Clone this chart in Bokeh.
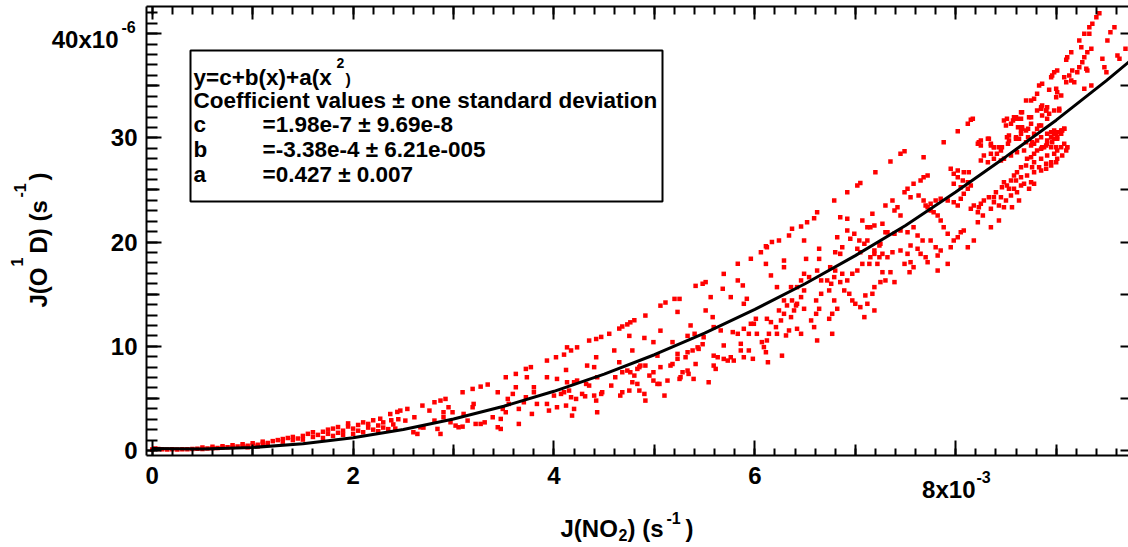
import math
from bokeh.plotting import figure
from bokeh.models import (ColumnDataSource, Label, BoxAnnotation, LinearAxis,
                          SingleIntervalTicker, FixedTicker, Range1d)
from bokeh.embed import file_html
from bokeh.resources import INLINE

# J(NO2) in units of 1e-3 s^-1 ; J(O1D) in units of 1e-6 s^-1
pts_low = [
(0.00,0.10),(0.03,0.20),(0.06,0.15),(0.10,0.12),(0.15,0.10),(0.20,0.12),(0.25,0.10),(0.30,0.13),(0.35,0.12),
(0.40,0.15),(0.45,0.17),(0.50,0.15),(0.55,0.20),(0.60,0.22),(0.65,0.25),(0.70,0.28),(0.75,0.30),(0.80,0.33),
(0.85,0.38),(0.90,0.42),(0.95,0.45),(1.00,0.50),(1.05,0.55),(1.10,0.65),(1.15,0.72),(0.70,0.40),(0.80,0.50),
(0.90,0.60),(1.00,0.70),(1.10,0.85),(1.15,0.55),(0.95,0.30),(1.05,0.40),(0.60,0.35),(0.50,0.28),
(1.20,0.90),(1.25,1.00),(1.30,0.85),(1.30,1.10),(1.35,1.20),(1.40,1.00),(1.40,1.30),(1.45,1.15),(1.50,1.40),
(1.50,1.05),(1.55,1.60),(1.60,1.30),(1.60,1.75),(1.65,1.50),(1.70,1.20),(1.70,1.80),(1.75,1.60),(1.75,2.00),
(1.80,1.40),(1.80,2.10),(1.85,1.70),(1.85,2.25),(1.90,1.90),(1.90,1.50),(1.95,2.30),(1.95,2.60),(2.00,1.60),
(2.00,2.10),(2.05,2.45),(2.05,1.90),(2.10,2.70),(2.10,1.75),(2.15,2.20),(2.15,2.55),(2.20,2.00),(2.20,2.90),
(2.25,1.85),(2.25,2.40),(2.27,3.05),(2.30,2.20),(2.30,2.70),(2.35,2.05),(2.37,3.50),(2.38,2.90),(2.40,2.50),
(2.42,2.10),(2.44,3.70),(2.45,3.00),
]

pts_mid = [
(5.41,15.8),(5.48,16.0),(5.06,13.9),(5.11,14.2),(5.25,14.55),(5.20,14.55),(4.91,12.95),(4.76,12.3),(4.80,12.5),
(4.73,12.1),(4.68,11.9),(4.65,11.7),(4.55,11.2),(4.47,10.9),(4.42,10.7),(4.35,10.55),(4.23,9.9),
(5.23,13.3),(5.06,11.5),(5.36,12.0),(4.75,11.0),(4.90,10.8),(4.99,10.4),(5.18,10.4),(5.33,11.0),(5.40,11.2),
(5.48,10.2),(5.49,10.87),(5.43,9.9),(5.44,9.75),(5.33,9.43),(5.23,9.27),(5.23,8.8),(5.31,8.95),(5.38,9.6),
(4.60,9.6),(4.78,9.6),(4.86,8.15),(4.91,8.15),(5.03,9.1),(5.06,8.0),(5.16,8.15),(5.18,8.3),(5.26,7.03),
(5.33,7.67),(5.34,7.35),(5.39,6.87),(5.41,8.3),
(4.42,8.95),(4.17,9.6),(4.13,9.9),(4.10,9.2),(4.02,8.95),(3.93,8.63),
(4.40,8.0),(4.33,8.15),(4.65,8.47),(4.68,7.51),(4.73,7.67),(4.76,7.51),(4.80,7.19),(4.83,7.83),(4.85,8.0),
(4.95,7.19),(4.99,7.51),(5.05,6.39),(5.13,6.71),(5.25,6.87),(5.28,7.51),
(3.72,7.83),(3.77,8.0),(3.73,7.03),(3.62,7.35),(3.52,7.03),(3.62,6.07),(3.80,6.07),(3.93,7.03),(4.03,6.87),
(4.12,7.73),(4.13,6.55),(4.15,5.75),(4.20,6.55),(4.23,6.71),(4.32,6.39),(4.35,6.23),(4.43,7.03),(4.48,5.59),
(4.57,6.23),(4.61,7.03),(4.66,5.27),(4.68,5.59),(4.75,5.75),(4.78,6.55),(4.83,6.39),(4.85,5.75),(4.90,5.43),
(4.91,4.79),(5.10,5.27),(5.03,6.39),(4.99,6.71),
(3.09,5.59),(3.19,5.91),(3.27,6.13),(3.34,6.33),(3.44,5.59),(3.54,4.95),(3.59,5.43),(3.65,3.99),(3.72,5.11),
(3.78,3.51),(3.83,4.47),(3.93,4.47),(3.95,3.83),(4.00,5.27),(4.03,4.15),(4.07,5.43),(4.10,5.59),(4.12,4.31),
(4.17,5.11),(4.18,3.35),(4.20,3.99),(4.22,4.95),(4.28,5.43),(4.31,5.2),(4.40,5.27),(4.42,4.79),(4.43,3.67),
(4.47,5.43),
(2.81,4.63),(2.87,4.79),(2.92,4.95),(2.95,4.15),(2.99,3.67),(3.05,2.23),(3.14,2.87),(3.10,3.51),(3.19,4.15),
(3.22,2.55),(3.27,2.55),(3.31,2.7),(3.39,3.19),(3.44,2.23),(3.47,3.03),(3.52,3.67),(3.55,4.47),(3.49,3.99),
(3.65,2.55),(3.70,4.63),(3.80,5.59),(3.47,2.07),(3.20,4.47),
(2.47,3.83),(2.54,3.99),(2.52,2.87),(2.61,3.19),(2.67,2.23),(2.64,1.59),(2.69,4.31),(2.76,3.83),(2.81,2.87),
(2.84,2.07),(2.90,3.19),(2.97,2.71),(2.87,1.59),(3.02,2.39),(3.09,2.29),(2.90,3.67),(2.60,1.75),(2.70,2.2),
(5.59,9.1),(5.63,8.95),(5.73,8.63),(5.76,8.95),(5.79,8.63),(5.86,9.6),(5.89,8.95),(5.94,9.6),(5.98,8.8),
(6.11,9.43),(6.13,8.47),(6.27,9.1),(5.54,6.55),(5.59,8.15),(5.61,7.83),(5.69,8.79),
]

pts_high = [
(5.51,16.16),(5.69,16.95),(5.83,17.92),(5.96,18.4),(6.11,19.6),(6.17,20.0),(6.24,20.15),(6.34,20.63),(6.37,21.27),
(6.46,21.5),(6.52,21.9),(6.59,22.3),(6.62,22.87),(6.79,23.99),(6.92,24.79),(7.02,25.43),(7.05,25.66),(7.20,26.71),
(7.35,27.74),(7.45,28.47),(7.49,28.73),
(7.68,28.15),(7.88,29.59),(8.02,30.65),(8.12,31.35),(8.15,31.73),
(8.22,29.43),(8.25,29.75),(8.33,29.91),(8.35,29.43),(8.38,29.11),(8.45,28.79),(8.51,30.07),(8.51,31.83),(8.55,31.35),
(8.58,31.99),(8.61,31.83),(8.65,32.47),(8.66,31.03),(8.70,30.71),(8.73,31.99),(8.75,31.35),(8.85,32.95),(8.86,32.15),
(8.90,32.63),(8.93,32.31),(8.98,32.63),(9.03,32.79),(8.78,30.39),(8.81,30.87),(8.85,31.19),(8.65,30.39),(8.60,30.07),
(8.53,29.75),(8.46,29.11),(8.41,28.47),(8.35,28.47),(8.28,28.31),(8.25,27.83),(8.32,27.67),(8.38,27.99),(8.45,27.83),
(8.48,27.99),(8.55,28.31),(8.61,28.63),(8.68,28.79),(8.75,29.27),(8.78,29.43),(8.81,29.75),(8.85,30.07),(8.91,30.39),
(8.95,30.55),(8.98,30.71),(9.00,30.39),(9.01,30.07),(9.05,30.39),(9.06,30.71),(9.08,30.87),
(8.95,30.07),(8.98,29.91),(8.91,29.43),(8.88,29.11),(8.85,28.95),(8.81,28.79),(8.78,28.47),(8.75,28.15),(8.71,27.99),
(8.78,27.67),(8.85,27.99),(8.91,28.31),(8.98,28.47),(9.01,28.79),(9.05,29.11),(9.08,29.43),(9.11,29.11),(9.10,28.79),
(9.06,28.31),(9.01,27.99),(8.95,27.67),(8.90,27.51),(8.83,27.19),(8.76,27.19),(8.70,27.35),(8.65,27.19),(8.61,26.71),
(8.58,26.39),(8.60,25.91),(8.65,26.23),(8.71,26.39),(8.78,26.71),(8.85,26.87),(8.90,27.03),(8.95,27.35),(9.00,27.67),
(8.55,25.91),(8.51,25.43),(8.46,25.27),(8.48,25.75),(8.53,25.11),(8.58,25.11),(8.65,25.43),(8.68,25.59),(8.75,25.75),
(8.78,25.59),(8.73,25.11),(8.61,24.79),(8.55,24.47),(8.50,23.99),(8.45,24.31),(8.38,24.31),(8.40,24.79),(8.33,24.31),
(8.28,23.99),(8.25,23.67),(8.23,23.35),(8.18,23.51),(8.15,23.19),(8.22,22.87),(8.27,22.55),(8.35,23.19),(8.38,23.83),
(8.43,23.51),(8.48,23.35),(8.56,23.35),(8.63,23.99),(8.35,21.43),(8.43,22.07),(8.22,21.91),(8.18,20.15),(8.12,19.51),
(8.08,21.11),(8.05,20.95),(8.02,20.47),(7.98,20.15),(7.95,19.51),(7.92,20.79),(7.88,21.43),(7.85,22.07),(7.82,22.55),
(7.78,22.87),(7.75,23.03),(7.72,23.35),(7.70,23.51),(7.75,23.67),(7.80,23.99),(7.85,24.15),(7.92,23.99),(7.98,23.83),
(8.02,23.51),(8.05,24.15),(8.08,24.63),(8.12,25.11),(8.15,25.43),(8.07,25.91),(8.02,26.23),(7.98,26.55),(7.95,27.03),
(8.02,26.87),(8.08,26.71),(8.13,26.71),(7.98,25.59),(8.05,25.27),(8.12,25.75),
(7.58,25.59),(7.65,25.91),(7.68,26.23),(7.72,26.39),(7.52,25.11),(7.49,24.79),(7.55,24.31),(7.63,24.47),(7.68,23.99),
(7.37,23.99),(7.42,23.35),(7.30,23.51),(7.39,23.03),(7.45,22.55),(7.27,21.75),(7.19,21.59),(7.12,21.43),(7.07,22.07),
(7.17,22.71),(7.32,20.95),(7.39,20.79),(7.45,21.11),(7.52,20.95),(7.58,21.43),(7.62,20.63),(7.67,20.15),(7.75,20.15),
(7.80,19.51),(7.85,19.19),(7.82,18.71),(7.72,18.07),(7.70,18.55),(7.65,18.87),(7.62,19.35),(7.55,19.67),(7.52,18.87),
(7.45,19.19),(7.49,17.91),(7.55,18.07),(7.58,17.59),(7.54,17.11),(7.92,17.91),(7.82,17.27),(7.37,19.03),(7.32,18.55),
(7.27,18.87),(7.24,19.67),(7.19,19.19),(7.15,18.55),(7.22,17.91),(7.27,17.11),(7.35,17.11),(7.39,16.16),(7.30,16.32),
(7.25,16.16),(7.19,15.68),(7.17,15.04),(7.10,14.88),(7.12,14.08),(7.19,13.44),(7.09,12.8),(7.05,13.76),(7.00,14.08),
(6.97,14.4),(6.94,15.04),(6.89,15.36),(6.85,16.16),(6.92,16.32),(6.97,16.96),(7.02,17.27),(6.87,16.96),(6.80,17.27),
(6.79,16.64),(6.76,16.0),(6.74,15.36),(6.79,14.4),(6.82,13.6),(6.77,13.12),(6.74,12.64),(6.66,15.04),(6.61,14.4),
(6.64,13.6),(6.61,13.12),(6.56,12.48),(6.59,11.84),(6.62,10.56),(6.77,11.2),(6.49,13.6),(6.46,14.72),(6.49,15.36),
(6.42,14.08),(6.39,13.44),(6.36,12.8),(6.37,14.4),(6.32,13.92),(6.29,13.12),(6.26,12.48),(6.21,11.84),(6.22,11.2),
(6.31,11.04),(6.34,11.52),(6.42,11.68),(6.46,11.2),(6.14,11.2),(6.12,10.56),(6.07,10.4),(6.09,9.92),(6.02,11.2),
(5.99,12.16),(6.01,12.64),(5.96,12.16),(5.94,11.2),(5.89,11.68),(5.86,10.24),(5.83,11.2),(5.78,11.36),(5.69,10.08),
(5.66,11.52),(5.59,11.84),(5.58,12.8),(5.51,13.44),(5.56,14.72),(5.68,15.52),(5.76,14.72),(5.89,14.08),(5.92,14.56),
(5.83,16.32),(5.88,15.84),(6.12,12.64),(6.16,12.32),(6.24,13.44),(6.29,14.4),(6.41,13.92),(6.46,16.32),(6.36,15.68),
(6.29,17.59),(6.22,15.68),(6.16,16.8),(6.11,17.91),(6.06,19.03),(6.12,19.51),(6.29,18.23),(6.42,15.68),(6.49,16.96),
(6.51,18.39),(6.49,20.15),(6.64,19.35),(6.64,18.39),(6.62,17.27),(6.54,16.64),(6.66,16.32),(6.75,17.59),(6.80,19.03),
(6.85,18.87),(6.87,19.51),(6.92,21.11),(6.95,20.31),(7.02,19.35),(7.05,19.03),(7.07,17.91),(7.14,17.91),(7.19,18.87),
(7.24,18.55),(7.25,19.83),(7.30,20.95),(7.09,19.83),(7.12,20.15),(7.15,21.43),(6.82,20.47),(6.85,22.39),(6.92,22.23),
(6.99,20.79),(7.04,20.15),(6.72,16.32),
]

pts_top = [
(9.43,41.97),(9.40,41.59),(9.36,40.95),(9.33,40.63),(9.28,39.99),(9.33,39.99),(9.23,39.35),(9.25,38.71),(9.15,38.23),
(9.11,37.75),(9.10,37.49),(9.31,38.23),(9.35,38.55),(9.28,37.75),(9.26,37.27),(9.23,36.79),(9.30,36.63),(9.31,36.47),
(9.21,36.31),(9.16,36.47),(9.13,35.99),(9.08,35.83),(9.10,35.35),(9.15,35.51),(9.18,35.35),(9.01,36.47),(8.98,36.31),
(8.96,35.99),(8.95,35.83),(8.86,35.19),(8.83,35.03),(8.93,34.61),(9.00,34.71),(9.01,34.39),(9.05,34.07),(9.00,33.91),
(8.81,34.23),(8.78,33.75),(8.70,33.59),(8.75,33.59),(8.86,33.11),(8.85,32.79),(8.90,32.63),(8.91,32.95),(8.81,32.63),
(8.66,32.47),(8.75,31.99),(8.65,31.83),(8.60,31.99),(8.57,31.67),(8.48,31.67),(8.50,31.19),(8.62,31.03),(8.65,30.71),
(8.66,30.87),(8.72,30.87),(8.83,31.19),(8.91,31.83),(9.03,32.63),(8.53,30.23),(8.60,29.91),(8.63,29.91),(8.52,29.43),
(8.72,30.07),(8.70,29.59),(8.76,29.59),(8.32,29.91),(8.23,29.59),(8.25,29.27),(8.35,29.27),(8.38,29.11),(8.43,29.11),
(9.48,36.79),(9.50,36.31),(9.46,37.59),(9.51,39.35),(9.58,40.63),(9.54,40.15),(9.61,37.91),(9.63,37.59),(9.69,38.55),
(9.35,35.03),(9.28,34.71),(8.17,31.83),
(8.86,29.11),(8.91,29.75),(8.95,30.07),(8.98,30.39),(9.01,30.55),(9.05,30.71),(9.08,30.87),(8.96,29.59),(9.01,29.91),
(8.95,29.11),(8.90,29.27),(9.11,29.11),(9.00,29.11),
]

# fitted curve y = c + b x + a x^2
fit_x = [0, 0.5, 1, 1.5, 2, 2.5, 3, 3.5, 4, 4.5, 5, 5.5, 6, 6.5, 7, 7.5, 8, 8.5, 9, 9.5, 9.75]
fit_y = [0.20, 0.14, 0.29, 0.65, 1.23, 2.02, 3.03, 4.25, 5.68, 7.33, 9.19, 11.27, 13.54, 16.0, 18.7,
         21.6, 24.8, 28.2, 31.7, 35.5, 37.5]

legend_lines = ["y=c+b(x)+a(x", "Coefficient values \u00b1 one standard deviation"]
coef_names = ["c", "b", "a"]
coef_values = ["=1.98e-7 \u00b1 9.69e-8", "=-3.38e-4 \u00b1 6.21e-005", "=0.427 \u00b1 0.007"]

x_mid_ticks = [1, 3, 5, 7, 9]
y_mid_ticks = [5, 15, 25, 35]

# plot-area geometry (canvas pixels) and axis extents (data units)
W, H = 1128, 547
AX_L, AX_B = 146, 455          # left axis line x, bottom axis line y
SX, SY = 100.44, 10.42         # pixels per data unit
XMIN, XMAX = -0.057, 9.72
YMIN = -0.48
YMAX = YMIN + (AX_B - 6) / SY
FONT = "Liberation Sans"

x_lo = XMIN - AX_L / SX
x_hi = XMIN + (W - AX_L) / SX
y_lo = YMIN - (H - AX_B) / SY
y_hi = YMIN + AX_B / SY

all_pts = pts_low + pts_mid + pts_high + pts_top
src = ColumnDataSource(data=dict(x=[q[0] for q in all_pts], y=[q[1] for q in all_pts]))

p = figure(width=W, height=H, x_range=Range1d(x_lo, x_hi), y_range=Range1d(y_lo, y_hi),
           output_backend="svg", toolbar_location=None,
           min_border_left=0, min_border_right=0, min_border_top=0, min_border_bottom=0,
           background_fill_color="white", border_fill_color="white", outline_line_color=None)
p.grid.visible = False

def style_axis(ax, maj_in, min_in, labels=True):
    ax.axis_line_width = 2
    ax.axis_line_color = "black"
    ax.major_tick_in = maj_in
    ax.major_tick_out = 0
    ax.minor_tick_in = min_in
    ax.minor_tick_out = 0
    ax.major_tick_line_width = 2
    ax.minor_tick_line_width = 2
    ax.major_tick_line_color = "black"
    ax.minor_tick_line_color = "black"
    ax.major_label_text_font = FONT
    ax.major_label_text_font_style = "bold"
    ax.major_label_text_font_size = "24px"
    ax.major_label_text_color = "black"
    if not labels:
        ax.major_label_text_font_size = "0px"
        ax.major_label_text_alpha = 0
        ax.major_label_standoff = 0

xa = p.xaxis[0]
xa.ticker = SingleIntervalTicker(interval=2, num_minor_ticks=10)
xa.fixed_location = YMIN
xa.bounds = (XMIN, XMAX)
style_axis(xa, 15, 7)
xa.major_label_standoff = 11
xa.major_label_overrides = {8: ""}

ya = p.yaxis[0]
ya.ticker = SingleIntervalTicker(interval=10, num_minor_ticks=10)
ya.fixed_location = XMIN
ya.bounds = (YMIN, YMAX)
style_axis(ya, 15, 11)
ya.major_label_standoff = 9
ya.major_label_overrides = {40: ""}

top = LinearAxis(ticker=SingleIntervalTicker(interval=2, num_minor_ticks=10),
                 fixed_location=YMAX, bounds=(XMIN, XMAX))
style_axis(top, 13, 8, labels=False)
p.add_layout(top, "above")

# medium ticks
for side, loc, ticks, ln in [("below", YMIN, x_mid_ticks, 11), ("above", YMAX, x_mid_ticks, 13),
                             ("left", XMIN, y_mid_ticks, 13)]:
    ax = LinearAxis(ticker=FixedTicker(ticks=ticks), fixed_location=loc)
    style_axis(ax, ln, 0, labels=False)
    ax.axis_line_color = None
    p.add_layout(ax, side)

# right-hand mirror ticks (no axis line)
right = LinearAxis(ticker=SingleIntervalTicker(interval=5, num_minor_ticks=0),
                   fixed_location=XMAX, bounds=(YMIN, YMAX))
style_axis(right, 8, 0, labels=False)
right.axis_line_color = None
p.add_layout(right, "right")

# data
p.scatter("x", "y", source=src, marker="square", size=4.5, fill_color="#ff0000", line_color=None)
p.line(fit_x, fit_y, line_color="black", line_width=3)

def lab(text, px, py, size, align="left", angle=0.0):
    # (px, py): canvas position of the start / end of the text and its vertical middle
    p.add_layout(Label(x=px, y=H - py, x_units="screen", y_units="screen", text=text,
                       text_font=FONT, text_font_style="bold", text_font_size=f"{size}px",
                       text_color="black", text_align=align, text_baseline="middle", angle=angle))

# legend box
p.add_layout(BoxAnnotation(left=190, right=662, top=H - 50, bottom=H - 201,
                           left_units="screen", right_units="screen", top_units="screen",
                           bottom_units="screen", fill_color="white", fill_alpha=1.0,
                           line_color="black", line_width=2, line_alpha=1.0))
lab(legend_lines[0], 193, 77, 22.5)
lab("2", 336, 62, 14)
lab(")", 345, 79, 16)
lab(legend_lines[1], 193, 100, 22.5)
for i, (nm, val) in enumerate(zip(coef_names, coef_values)):
    mid = 124 + 25 * i
    lab(nm, 193, mid, 22.5)
    lab(val, 262, mid, 22.5)

# special tick labels with exponents
lab("40x10", 118, 39, 24, align="right")
lab("-6", 121, 26, 16)
lab("8x10", 975, 489, 24, align="right")
lab("-3", 976, 476, 16)

# x axis title
lab("J(NO", 560, 528, 24)
lab("2", 618, 534, 16)
lab(") (s", 627, 528, 24)
lab("-1", 666, 517, 16)
lab(")", 685, 528, 24)

# y axis title (rotated)
A = math.pi / 2
lab("J(O", 38, 307, 24, angle=A)
lab("1", 16, 266, 16, angle=A)
lab("D) (s", 38, 253, 24, angle=A)
lab("-1", 19, 197, 16, angle=A)
lab(")", 38, 180, 24, angle=A)

open("out.html", "w").write(file_html(p, INLINE))
